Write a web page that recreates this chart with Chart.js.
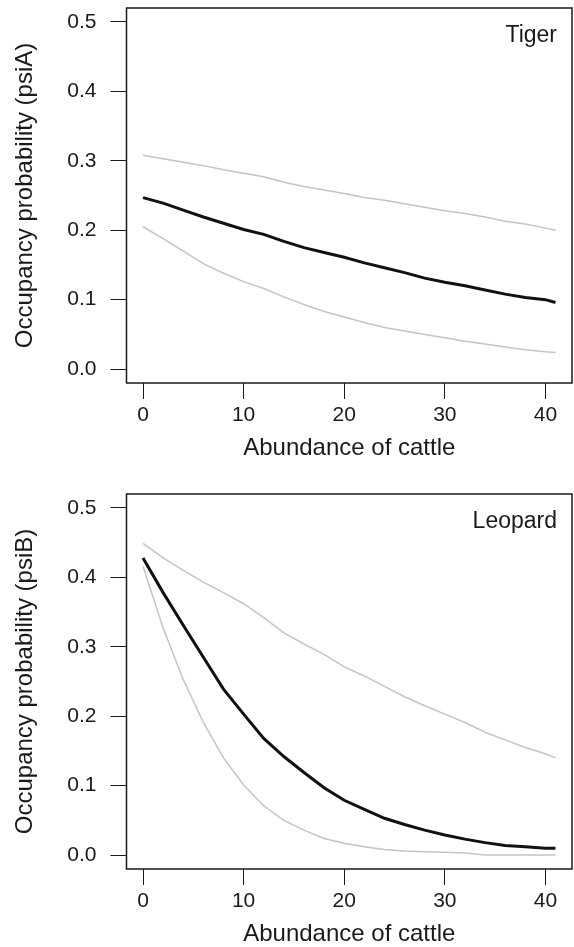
<!DOCTYPE html>
<html>
<head>
  <meta charset="utf-8">
  <title>Occupancy vs cattle</title>
  <script src="https://cdn.jsdelivr.net/npm/chart.js@4.4.1/dist/chart.umd.min.js"></script>
  <style>
    html, body { margin: 0; padding: 0; background: #fff; overflow: hidden; }
    .panel { position: absolute; left: 0; width: 574px; height: 470px; }
  </style>
</head>
<body>
  <div class="panel" style="top:0px"><canvas id="tiger"></canvas></div>
  <div class="panel" style="top:486px"><canvas id="leopard"></canvas></div>
  <script>
    // abundance of cattle (x)
    var cattle = [0, 2, 4, 6, 8, 10, 12, 14, 16, 18, 20, 22, 24, 26, 28, 30, 32, 34, 36, 38, 40, 41];

    // tiger (psiA)
    var tigerUpper = [0.308, 0.303, 0.298, 0.293, 0.287, 0.282, 0.277, 0.269, 0.263, 0.258, 0.253, 0.247, 0.243, 0.238, 0.233, 0.228, 0.224, 0.219, 0.213, 0.209, 0.203, 0.200];
    var tigerMean  = [0.247, 0.239, 0.229, 0.219, 0.210, 0.201, 0.194, 0.184, 0.175, 0.168, 0.161, 0.153, 0.146, 0.139, 0.131, 0.125, 0.120, 0.114, 0.108, 0.103, 0.100, 0.096];
    var tigerLower = [0.205, 0.188, 0.170, 0.152, 0.138, 0.126, 0.116, 0.104, 0.093, 0.083, 0.075, 0.067, 0.060, 0.055, 0.050, 0.045, 0.040, 0.036, 0.032, 0.028, 0.025, 0.024];

    // leopard (psiB)
    var leopardUpper = [0.449, 0.428, 0.410, 0.393, 0.378, 0.362, 0.342, 0.320, 0.304, 0.289, 0.271, 0.258, 0.243, 0.228, 0.215, 0.203, 0.191, 0.177, 0.166, 0.155, 0.146, 0.140];
    var leopardMean  = [0.428, 0.378, 0.331, 0.285, 0.239, 0.203, 0.168, 0.142, 0.119, 0.097, 0.079, 0.066, 0.053, 0.044, 0.036, 0.029, 0.023, 0.018, 0.014, 0.012, 0.010, 0.010];
    var leopardLower = [0.416, 0.327, 0.253, 0.191, 0.140, 0.101, 0.071, 0.050, 0.036, 0.024, 0.017, 0.012, 0.008, 0.006, 0.005, 0.004, 0.003, 0.000, 0.000, 0.000, 0.000, 0.000];

    var xTicks = [0, 10, 20, 30, 40];
    var yTicks = [0.0, 0.1, 0.2, 0.3, 0.4, 0.5];

    Chart.defaults.font.family = "'Liberation Sans', Arial, sans-serif";
    Chart.defaults.color = '#1a1a1a';

    function pts(ys) {
        return cattle.map(function (x, i) { return { x: x, y: ys[i] }; });
    }

    // box round the plot + species label in the top right corner
    var boxPlugin = {
        id: 'box',
        afterDraw: function (chart) {
            var a = chart.chartArea, ctx = chart.ctx;
            ctx.save();
            ctx.strokeStyle = '#1a1a1a';
            ctx.lineWidth = 1.5;
            ctx.strokeRect(a.left, a.top, a.right - a.left, a.bottom - a.top);
            ctx.fillStyle = '#1a1a1a';
            ctx.font = "23px 'Liberation Sans', Arial, sans-serif";
            ctx.textAlign = 'right';
            ctx.textBaseline = 'alphabetic';
            ctx.fillText(chart.options.plugins.box.text, a.right - 15, a.top + 34);
            ctx.restore();
        }
    };

    function makePanel(id, label, yTitle, upper, mean, lower) {
        var grid = { display: true, drawOnChartArea: false, drawTicks: true, tickLength: 16, color: '#1a1a1a', lineWidth: 1 };
        return new Chart(document.getElementById(id), {
            type: 'scatter',
            data: {
                datasets: [
                    { data: pts(upper), showLine: true, borderColor: '#c4c4c4', borderWidth: 1.5, pointRadius: 0 },
                    { data: pts(lower), showLine: true, borderColor: '#c4c4c4', borderWidth: 1.5, pointRadius: 0 },
                    { data: pts(mean),  showLine: true, borderColor: '#111111', borderWidth: 3,   pointRadius: 0 }
                ]
            },
            options: {
                responsive: true,
                maintainAspectRatio: false,
                animation: false,
                layout: { padding: { top: 8, right: 2, left: 0, bottom: 0 } },
                plugins: {
                    legend: { display: false },
                    tooltip: { enabled: false },
                    box: { text: label }
                },
                scales: {
                    x: {
                        type: 'linear',
                        min: -1.64,
                        max: 42.64,
                        afterBuildTicks: function (s) { s.ticks = xTicks.map(function (v) { return { value: v }; }); },
                        afterFit: function (s) { s.height = 87; s.paddingLeft = 0; s.paddingRight = 0; },
                        ticks: { font: { size: 21 }, padding: 4, maxRotation: 0 },
                        grid: grid,
                        border: { display: false },
                        title: { display: true, text: 'Abundance of cattle', font: { size: 24 }, padding: { top: 0, bottom: 7 } }
                    },
                    y: {
                        min: -0.02,
                        max: 0.52,
                        afterBuildTicks: function (s) { s.ticks = yTicks.map(function (v) { return { value: v }; }); },
                        afterFit: function (s) { s.width = 126.5; s.paddingTop = 0; s.paddingBottom = 0; },
                        ticks: { font: { size: 21 }, padding: 14, callback: function (v) { return v.toFixed(1); } },
                        grid: grid,
                        border: { display: false },
                        title: { display: true, text: yTitle, font: { size: 24 }, padding: { top: 11, bottom: 0 } }
                    }
                }
            },
            plugins: [boxPlugin]
        });
    }

    makePanel('tiger', 'Tiger', 'Occupancy probability (psiA)', tigerUpper, tigerMean, tigerLower);
    makePanel('leopard', 'Leopard', 'Occupancy probability (psiB)', leopardUpper, leopardMean, leopardLower);
  </script>
</body>
</html>
